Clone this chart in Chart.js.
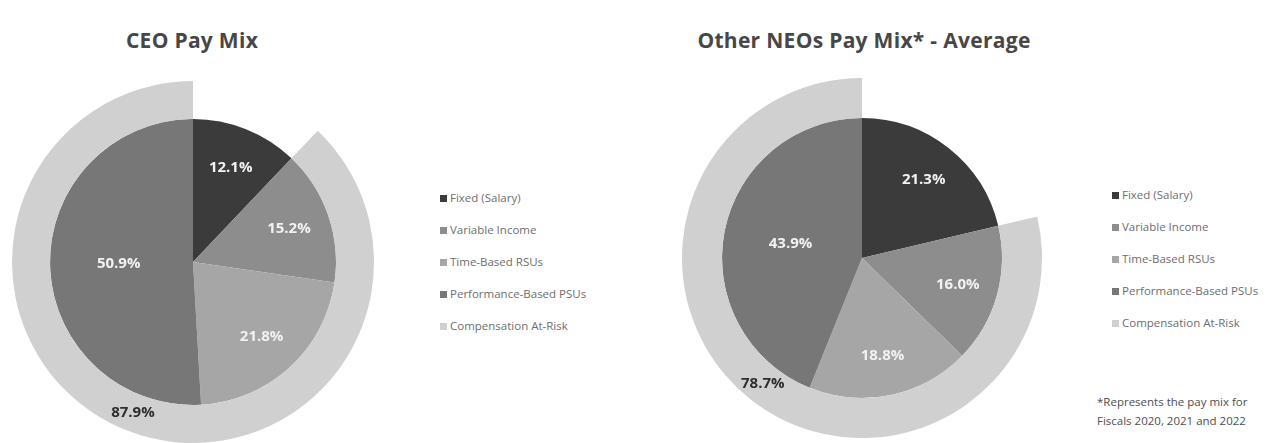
<!doctype html>
<html>

<head>
	<title>Pay Mix</title>
	<script src="https://cdn.jsdelivr.net/npm/chart.js@4/dist/chart.umd.min.js"></script>
	<style>
		body {
			margin: 0;
			background: #fff;
			font-family: 'Open Sans', sans-serif;
			width: 1280px;
			height: 443px;
			position: relative;
			overflow: hidden;
		}
		.title {
			position: absolute;
			font-size: 21px;
			font-weight: 700;
			color: #474747;
			white-space: nowrap;
			transform: translateX(-50%);
			letter-spacing: 0.3px;
		}
		.holder {
			position: absolute;
		}
		.legend {
			position: absolute;
			font-size: 11.5px;
			color: #6e6e6e;
			list-style: none;
			margin: 0;
			padding: 0;
		}
		.legend li {
			height: 32px;
			line-height: 14px;
			white-space: nowrap;
		}
		.legend span {
			display: inline-block;
			width: 7px;
			height: 7px;
			margin-right: 3px;
			vertical-align: 0px;
		}
		.note {
			position: absolute;
			left: 1097px;
			top: 392px;
			font-size: 11.5px;
			line-height: 19px;
			color: #4e4e4e;
			white-space: nowrap;
		}
	</style>
</head>

<body>
	<div class="title" style="left:192px; top:26px;">CEO Pay Mix</div>
	<div class="title" style="left:864px; top:26px;">Other NEOs Pay Mix* - Average</div>

	<div class="holder" style="left:12px; top:81px; width:362px; height:362px;">
		<canvas id="ceo-chart"></canvas>
	</div>
	<div class="holder" style="left:682px; top:78px; width:360px; height:360px;">
		<canvas id="neo-chart"></canvas>
	</div>

	<ul class="legend" id="ceo-legend" style="left:440px; top:191px;"></ul>
	<ul class="legend" id="neo-legend" style="left:1112px; top:188px;"></ul>

	<div class="note">*Represents the pay mix for<br>Fiscals 2020, 2021 and 2022</div>

	<script>
		var payCategories = ['Fixed (Salary)', 'Variable Income', 'Time-Based RSUs', 'Performance-Based PSUs'];
		var ceoMix = [12.1, 15.2, 21.8, 50.9];
		var ceoAtRisk = 87.9;
		var neoMix = [21.3, 16.0, 18.8, 43.9];
		var neoAtRisk = 78.7;

		var sliceColors = ['#3b3b3b', '#8d8d8d', '#a6a6a6', '#777777'];
		var riskColor = '#d0d0d0';

		// writes the percentage on each slice, and on the at-risk ring
		var sliceLabels = {
			id: 'sliceLabels',
			afterDatasetsDraw: function (chart) {
				var ctx = chart.ctx;
				ctx.save();
				ctx.textAlign = 'center';
				ctx.textBaseline = 'middle';
				chart.data.datasets.forEach(function (dataset, di) {
					var meta = chart.getDatasetMeta(di);
					meta.data.forEach(function (arc, i) {
						if (dataset.showLabel && !dataset.showLabel[i]) return;
						var p = arc.getProps(['x', 'y', 'startAngle', 'endAngle', 'innerRadius', 'outerRadius']);
						var mid = (p.startAngle + p.endAngle) / 2;
						var r;
						if (dataset.ring) {
							r = (p.innerRadius + p.outerRadius) / 2;
							ctx.fillStyle = '#2e2e2e';
						} else {
							r = p.outerRadius * (dataset.data[i] > 40 ? 0.52 : 0.71);
							ctx.fillStyle = '#f2f2f2';
						}
						ctx.font = 'bold 15px "Open Sans"';
						ctx.fillText(dataset.data[i].toFixed(1) + '%', p.x + Math.cos(mid) * r, p.y + Math.sin(mid) * r);
					});
				});
				ctx.restore();
			}
		};

		function makePayChart(id, mix, atRisk, ringWeight, pieWeight) {
			var ctx = document.getElementById(id).getContext('2d');
			return new Chart(ctx, {
				type: 'doughnut',
				data: {
					labels: payCategories,
					datasets: [{
						// outer ring: everything except fixed salary
						data: [mix[0], atRisk],
						backgroundColor: ['rgba(0,0,0,0)', riskColor],
						borderWidth: 0,
						weight: ringWeight,
						ring: true,
						showLabel: [false, true]
					}, {
						data: mix,
						backgroundColor: sliceColors,
						borderWidth: 0,
						weight: pieWeight
					}]
				},
				options: {
					responsive: true,
					maintainAspectRatio: true,
					aspectRatio: 1,
					cutout: 0,
					animation: false,
					layout: { padding: 0 },
					plugins: {
						legend: { display: false },
						tooltip: { enabled: false }
					}
				},
				plugins: [sliceLabels]
			});
		}

		function fillLegend(id) {
			var ul = document.getElementById(id);
			var names = payCategories.concat(['Compensation At-Risk']);
			var colors = sliceColors.concat([riskColor]);
			names.forEach(function (name, i) {
				var li = document.createElement('li');
				var sw = document.createElement('span');
				sw.style.background = colors[i];
				li.appendChild(sw);
				li.appendChild(document.createTextNode(name));
				ul.appendChild(li);
			});
		}

		window.onload = function () {
			window.ceoChart = makePayChart('ceo-chart', ceoMix, ceoAtRisk, 38, 143);
			window.neoChart = makePayChart('neo-chart', neoMix, neoAtRisk, 40, 140);
			fillLegend('ceo-legend');
			fillLegend('neo-legend');
		};
	</script>
</body>

</html>
